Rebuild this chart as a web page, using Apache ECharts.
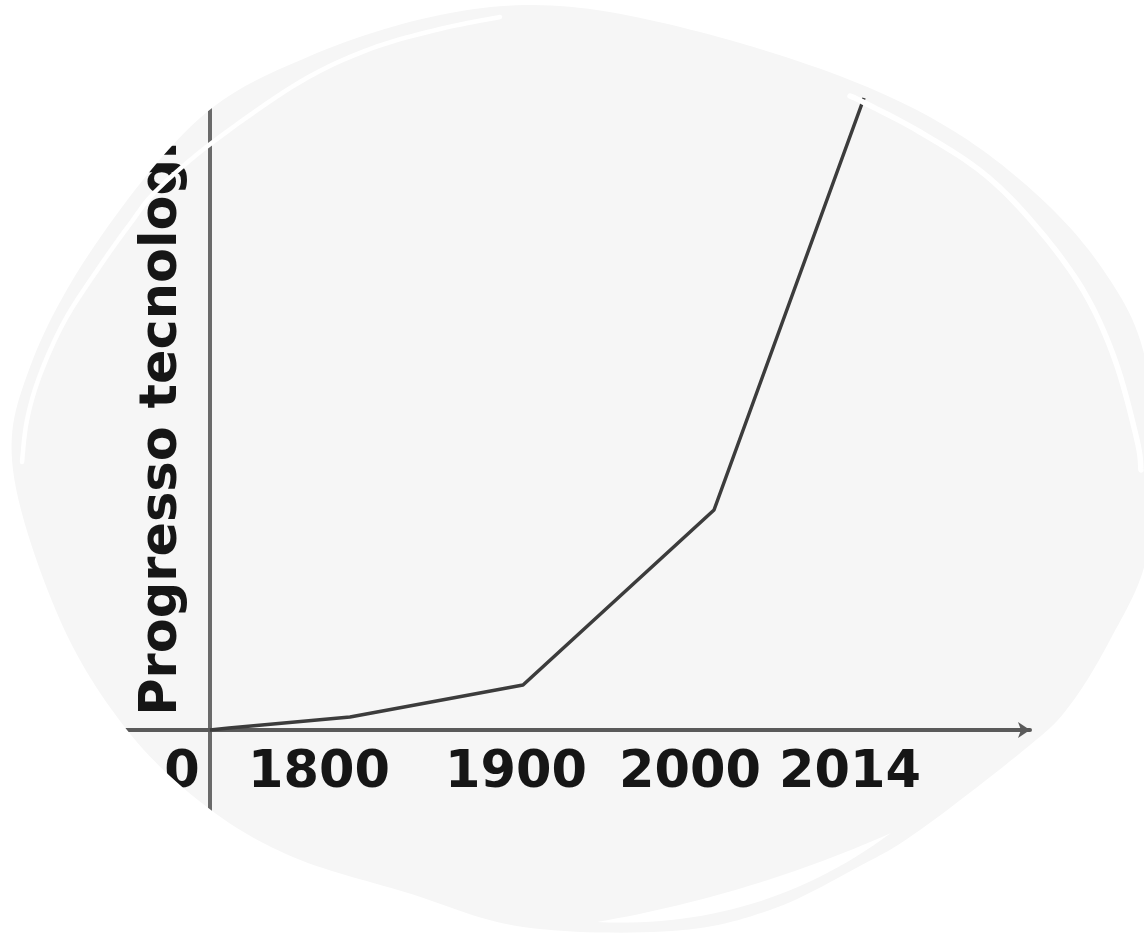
<!DOCTYPE html>
<html>
<head>
<meta charset="utf-8">
<script src="https://cdn.jsdelivr.net/npm/echarts@6/dist/echarts.min.js"></script>
<style>
  html, body { margin: 0; padding: 0; background: #ffffff; }
  #chart { width: 1144px; height: 933px; }
</style>
</head>
<body>
<div id="chart"></div>
<script>
// ---- data ----
const xLabels = ['0', '1800', '1900', '2000', '2014'];
const xLabelPos = [-28, 109, 306, 480, 640];
const curveX = [0, 19, 140, 313, 504, 654];
const curveY = [0, 2, 13, 45, 220, 632];
const yName = 'Progresso tecnologico';

// ---- decorative blob (background shape) ----
const blobPts = [[13,470],[30,367],[95,245],[200,118],[310,56],[440,15],[560,6],[700,32],[850,80],[960,135],[1050,207],[1110,280],[1143,350],[1156,450],[1146,560],[1110,640],[1070,705],[1030,745],[920,830],[858,867],[770,910],[672,931],[523,927],[408,893],[293,857],[207,807],[127,730],[60,620]];
const gapTL = [[22,462],[27,420],[40,375],[65,320],[100,266],[130,224],[157,190],[213,142],[300,82],[370,49],[440,29],[500,17]];
const gapTR = [[850,96],[863,102],[920,132],[983,173],[1035,225],[1083,290],[1115,360],[1137,440],[1141,470]];

function crSample(pts, closed, steps) {
  const n = pts.length;
  const segs = closed ? n : n - 1;
  const out = [];
  for (let i = 0; i < segs; i++) {
    const p1 = pts[i];
    const p2 = pts[(i + 1) % n];
    const p0 = closed ? pts[(i - 1 + n) % n] : (i === 0 ? p1 : pts[i - 1]);
    const p3 = closed ? pts[(i + 2) % n] : (i + 2 >= n ? p2 : pts[i + 2]);
    const c1 = [p1[0] + (p2[0] - p0[0]) / 6, p1[1] + (p2[1] - p0[1]) / 6];
    const c2 = [p2[0] - (p3[0] - p1[0]) / 6, p2[1] - (p3[1] - p1[1]) / 6];
    for (let s = 0; s < steps; s++) {
      const t = s / steps, u = 1 - t;
      const a = u * u * u, b = 3 * u * u * t, c = 3 * u * t * t, d = t * t * t;
      out.push([a * p1[0] + b * c1[0] + c * c2[0] + d * p2[0], a * p1[1] + b * c1[1] + c * c2[1] + d * p2[1]]);
    }
    out.push(null);
  }
  return out;
}
const STEPS = 14;
const segList = [];
let cur = [];
crSample(blobPts, true, STEPS).forEach(function (p) { if (p === null) { segList.push(cur); cur = []; } else cur.push(p); });
function flatten(from, to) {
  const res = [];
  const n = segList.length;
  let i = from;
  while (true) {
    res.push.apply(res, segList[i % n]);
    i++;
    if (i % n === to % n) break;
  }
  res.push(blobPts[to % n]);
  return res;
}
const upperEdge = flatten(0, 13);
const lowerEdge = flatten(13, 28);
const overlayTop = [[-20, 475]].concat(upperEdge, [[1180, 455], [1180, -20], [-20, -20]]);
const overlayBottom = [[1180, 445]].concat(lowerEdge, [[-20, 465], [-20, 960], [1180, 960]]);

function openSample(pts, steps) {
  return crSample(pts, false, steps).filter(function (p) { return p !== null; }).concat([pts[pts.length - 1]]);
}
function quad(p0, c, p1, steps) {
  const out = [];
  for (let s = 0; s <= steps; s++) {
    const t = s / steps, u = 1 - t;
    out.push([u * u * p0[0] + 2 * u * t * c[0] + t * t * p1[0], u * u * p0[1] + 2 * u * t * c[1] + t * t * p1[1]]);
  }
  return out;
}
const crescentBR = quad([597, 922], [748, 896], [891, 833], 30).concat(quad([891, 833], [760, 930], [597, 922], 30));

const fontFamily = '"DejaVu Sans", Verdana, sans-serif';
const textStyle = { fontFamily: fontFamily, fontWeight: 'bold', fontSize: 51, color: '#161616' };
const hidden = { show: false };

const chart = echarts.init(document.getElementById('chart'), null, { renderer: 'canvas' });
chart.setOption({
  backgroundColor: '#f6f6f6',
  animation: false,
  grid: [
    // main plotting grid (axis lines cross at zero)
    { left: 60, right: 114, top: 0, bottom: 101, containLabel: false, outerBoundsMode: 'none' },
    // grid whose bottom edge is the x axis line (for tick labels)
    { left: 60, right: 114, top: 0, bottom: 203, containLabel: false, outerBoundsMode: 'none' },
    // grid whose left edge is the y axis line (for the axis name)
    { left: 210, right: 114, top: 0, bottom: 141, containLabel: false, outerBoundsMode: 'none' }
  ],
  xAxis: [
    {
      gridIndex: 0, type: 'value', min: -150, max: 820,
      axisLine: { onZero: true, lineStyle: { color: '#5a5a5a', width: 4 }, symbol: ['none', 'arrow'], symbolSize: [12, 12] },
      axisTick: hidden, splitLine: hidden, axisLabel: hidden
    },
    {
      gridIndex: 1, type: 'value', min: -150, max: 820, position: 'bottom',
      axisLine: { show: false, onZero: false }, axisTick: hidden, splitLine: hidden,
      axisLabel: Object.assign({
        customValues: xLabelPos,
        formatter: function (v) { const i = xLabelPos.indexOf(v); return i >= 0 ? xLabels[i] : ''; },
        margin: 18
      }, textStyle)
    },
    { gridIndex: 2, type: 'value', min: 0, max: 820, show: false }
  ],
  yAxis: [
    {
      gridIndex: 0, type: 'value', min: -102, max: 730,
      axisLine: { onZero: true, lineStyle: { color: '#6a6a6a', width: 4 } },
      axisTick: hidden, axisLabel: hidden, splitLine: hidden
    },
    { gridIndex: 1, type: 'value', min: 0, max: 730, show: false },
    {
      gridIndex: 2, type: 'value', min: 0, max: 700, position: 'left',
      axisLine: { show: false, onZero: false }, axisTick: hidden, axisLabel: hidden, splitLine: hidden,
      name: yName, nameLocation: 'middle', nameGap: 22,
      nameTextStyle: textStyle
    }
  ],
  series: [{
    type: 'line',
    xAxisIndex: 0, yAxisIndex: 0,
    data: curveX.map(function (x, i) { return [x, curveY[i]]; }),
    symbol: 'none',
    showSymbol: false,
    clip: false,
    lineStyle: { color: '#3c3c3c', width: 3.5 }
  }],
  graphic: [
    { type: 'polygon', silent: true, z: 100, shape: { points: overlayTop }, style: { fill: '#ffffff' } },
    { type: 'polygon', silent: true, z: 100, shape: { points: overlayBottom }, style: { fill: '#ffffff' } },
    { type: 'polyline', silent: true, z: 101, shape: { points: openSample(gapTL, 10) }, style: { stroke: '#ffffff', lineWidth: 4.5, lineCap: 'round', lineJoin: 'round' } },
    { type: 'polyline', silent: true, z: 101, shape: { points: openSample(gapTR, 10) }, style: { stroke: '#ffffff', lineWidth: 5.5, lineCap: 'round', lineJoin: 'round' } },
    { type: 'polygon', silent: true, z: 101, shape: { points: crescentBR }, style: { fill: '#ffffff' } }
  ]
});
</script>
</body>
</html>
